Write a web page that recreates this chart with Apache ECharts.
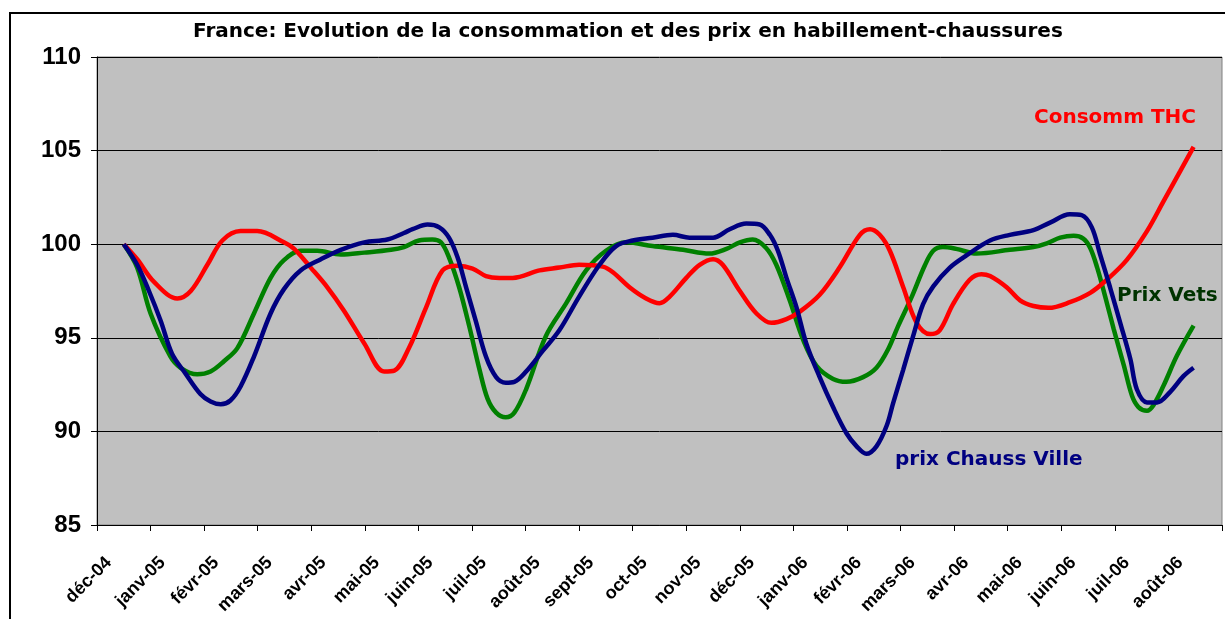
<!DOCTYPE html>
<html><head><meta charset="utf-8">
<script src="https://cdn.jsdelivr.net/npm/echarts@6/dist/echarts.min.js"></script>
<style>html,body{margin:0;padding:0;background:#fff}#c{width:1225px;height:619px}</style>
</head><body><div id="c"></div>
<script>
const months = ["déc-04","janv-05","févr-05","mars-05","avr-05","mai-05","juin-05","juil-05","août-05","sept-05","oct-05","nov-05","déc-05","janv-06","févr-06","mars-06","avr-06","mai-06","juin-06","juil-06","août-06"];
const yTicks = [85, 90, 95, 100, 105, 110];

// positions in months since déc-04
const consoPos = [0,0.25,0.56,1.0,1.25,1.56,1.84,2.18,2.49,2.99,3.18,3.49,3.8,4.11,4.49,4.86,5.05,5.33,5.64,5.95,6.23,6.51,6.76,7.01,7.26,7.76,8.13,8.5,8.94,9.13,9.44,9.75,10.0,10.19,10.5,10.75,11.0,11.18,11.5,11.81,12.09,12.37,12.62,12.99,13.36,13.74,13.93,14.11,14.3,14.55,14.8,15.05,15.23,15.48,15.79,16.01,16.17,16.48,16.73,16.98,17.26,17.66,18.04,18.35,18.72,19.1,19.41,19.72,19.97];
const consoVal = [100,99.2,98.0,97.1,97.5,98.9,100.2,100.7,100.7,100.1,99.75,98.75,97.7,96.45,94.7,93.2,93.25,94.5,96.6,98.6,98.85,98.7,98.3,98.2,98.2,98.6,98.75,98.9,98.8,98.5,97.7,97.1,96.85,97.2,98.2,98.9,99.2,98.9,97.5,96.3,95.8,96.0,96.4,97.3,98.75,100.5,100.8,100.5,99.65,97.7,95.8,95.2,95.4,96.8,98.1,98.4,98.3,97.7,97.0,96.7,96.6,96.9,97.4,98.1,99.15,100.7,102.3,103.9,105.2];

const vetsPos = [0,0.25,0.5,0.87,1.06,1.37,1.62,1.87,2.12,2.43,2.74,2.99,3.3,3.61,4.05,4.49,4.99,5.23,5.51,5.76,5.92,6.07,6.26,6.45,6.64,6.79,6.95,7.13,7.29,7.51,7.88,8.26,8.63,9.0,9.38,9.87,10.44,10.93,11.25,11.5,11.74,11.99,12.18,12.43,12.68,12.93,13.24,13.49,13.8,14.05,14.27,14.45,14.71,14.95,15.11,15.29,15.54,15.92,16.54,16.98,17.23,17.48,17.73,17.91,18.04,18.17,18.32,18.48,18.67,18.82,18.94,19.1,19.22,19.41,19.66,19.97];
const vetsVal = [100,98.75,96.3,94.0,93.4,93.05,93.2,93.75,94.45,96.3,98.2,99.15,99.65,99.65,99.45,99.55,99.7,99.85,100.2,100.25,100.1,99.3,97.7,95.6,93.3,91.75,91.0,90.75,91.0,92.25,95.1,96.85,98.6,99.65,100.1,99.9,99.7,99.5,99.75,100.1,100.25,99.8,98.9,97.0,94.9,93.5,92.8,92.65,92.9,93.4,94.4,95.6,97.2,98.85,99.65,99.85,99.75,99.5,99.7,99.85,100.05,100.35,100.45,100.3,99.8,98.75,97.2,95.45,93.5,91.9,91.3,91.1,91.4,92.45,94.05,95.65];

const chaussPos = [0,0.25,0.47,0.69,0.9,1.15,1.43,1.62,1.81,1.99,2.18,2.43,2.74,2.99,3.3,3.68,4.05,4.49,4.92,5.23,5.39,5.67,5.89,6.07,6.23,6.39,6.57,6.76,6.95,7.13,7.29,7.51,7.82,8.13,8.5,8.88,9.19,9.5,9.87,10.25,10.56,11.0,11.31,11.62,11.87,12.06,12.21,12.37,12.56,12.74,12.99,13.24,13.49,13.68,13.86,14.05,14.24,14.36,14.55,14.73,14.92,15.11,15.42,15.73,16.17,16.54,16.98,17.29,17.66,17.88,18.07,18.22,18.41,18.6,18.79,18.91,19.1,19.29,19.53,19.78,19.97];
const chaussVal = [100,98.9,97.5,95.9,94.15,93.1,92.0,91.6,91.45,91.65,92.4,94.0,96.3,97.6,98.6,99.2,99.7,100.1,100.25,100.6,100.8,101.05,100.9,100.35,99.3,97.7,95.9,94.0,92.9,92.6,92.65,93.2,94.3,95.4,97.2,98.9,99.9,100.2,100.35,100.5,100.35,100.35,100.8,101.1,101.05,100.5,99.65,98.2,96.6,94.7,92.9,91.3,89.9,89.2,88.8,89.2,90.3,91.5,93.3,95.05,96.8,97.75,98.75,99.4,100.2,100.5,100.75,101.15,101.6,101.55,100.9,99.5,97.7,95.8,93.85,92.25,91.55,91.55,92.1,92.95,93.4];

const zip = (p, v) => p.map((x, i) => [x, v[i]]);
const FONT = '"Liberation Sans", Arial, sans-serif';
const WIDE = '"DejaVu Sans", sans-serif';

const chart = echarts.init(document.getElementById('c'), null, {renderer: 'canvas'});
chart.setOption({
  animation: false,
  backgroundColor: '#fff',
  title: {
    text: 'France: Evolution de la consommation et des prix en habillement-chaussures',
    left: 188, top: 17,
    textStyle: {fontFamily: WIDE, fontWeight: 'bold', fontSize: 20, color: '#000'}
  },
  grid: {left: 97, right: 3, top: 57, bottom: 94, show: true, backgroundColor: '#C0C0C0', borderColor: '#808080', borderWidth: 1},
  xAxis: [{
    type: 'category', data: months, boundaryGap: true,
    axisLine: {show: true, onZero: false, lineStyle: {color: '#000', width: 1}},
    axisTick: {show: true, alignWithLabel: false, interval: 0, length: 6, lineStyle: {color: '#000'}},
    axisLabel: {interval: 0, rotate: 45, fontFamily: FONT, fontWeight: 'bold', fontSize: 18, color: '#000', margin: 20, padding: [0, 21, 0, 0]},
    splitLine: {show: false}
  }, {
    type: 'value', min: -0.5, max: 20.5, show: false
  }],
  yAxis: {
    type: 'value', min: yTicks[0], max: yTicks[yTicks.length - 1], interval: 5,
    axisLine: {show: true, onZero: false, lineStyle: {color: '#000', width: 1}},
    axisTick: {show: true, length: 6, lineStyle: {color: '#000'}},
    axisLabel: {fontFamily: FONT, fontWeight: 'bold', fontSize: 24, color: '#000', margin: 16},
    splitLine: {show: true, lineStyle: {color: '#000', width: 1}}
  },
  series: [
    {name: 'Consomm THC', type: 'line', xAxisIndex: 1, data: zip(consoPos, consoVal), smooth: 0.35, showSymbol: false, lineStyle: {color: '#FF0000', width: 4.5}, z: 3},
    {name: 'Prix Vets', type: 'line', xAxisIndex: 1, data: zip(vetsPos, vetsVal), smooth: 0.35, showSymbol: false, lineStyle: {color: '#008000', width: 4.5}, z: 2},
    {name: 'prix Chauss Ville', type: 'line', xAxisIndex: 1, data: zip(chaussPos, chaussVal), smooth: 0.35, showSymbol: false, lineStyle: {color: '#000080', width: 4.5}, z: 4}
  ],
  graphic: [
    {type: 'rect', shape: {x: 10, y: 13, width: 1230, height: 620}, style: {fill: 'none', stroke: '#000', lineWidth: 2}, silent: true, z: 100},
    {type: 'text', left: 1034, top: 108, style: {text: 'Consomm THC', fill: '#FF0000', font: 'bold 20px ' + WIDE}, z: 100},
    {type: 'text', left: 1117, top: 286, style: {text: 'Prix Vets', fill: '#003300', font: 'bold 20px ' + WIDE}, z: 100},
    {type: 'text', left: 895, top: 450, style: {text: 'prix Chauss Ville', fill: '#000080', font: 'bold 20px ' + WIDE}, z: 100}
  ]
});
</script></body></html>
